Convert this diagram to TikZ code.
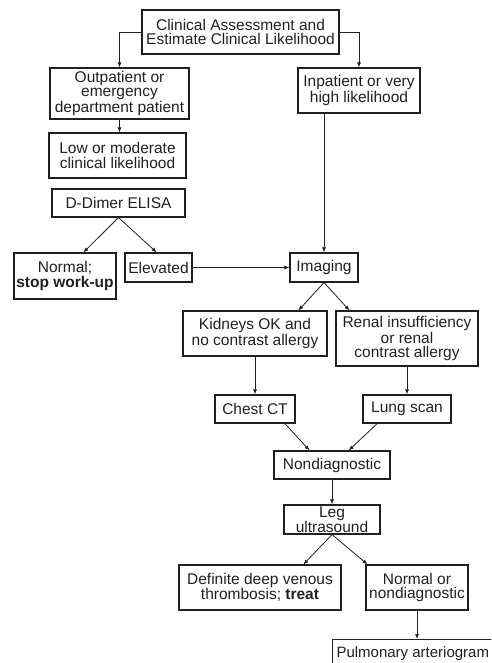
\documentclass[tikz,border=0pt]{standalone}
\usepackage{fontspec}
\setmainfont{Liberation Sans}
\usetikzlibrary{arrows.meta,positioning,calc}
\definecolor{ink}{HTML}{231F20}
\tikzset{
  flowarrow/.style={-{Latex[length=5pt,width=4pt]}, line width=0.8pt, draw=ink},
  stepbox/.style={draw=ink, line width=1.1pt, align=center, inner sep=2pt, text=ink,
    font=\fontsize{15.5}{14.4}\selectfont}
}

\begin{document}
\begin{tikzpicture}[x=1pt, y=-1pt]
        \useasboundingbox (0,0) rectangle (491,663);
        \clip (0,0) rectangle (491,663);

        \node[stepbox, minimum width=197pt, minimum height=44pt] (assess) at (240.5,32) {Clinical Assessment and\\Estimate Clinical Likelihood};
        \node[stepbox, minimum width=139pt, minimum height=51pt] (outp) at (119.5,93.5) {Outpatient or\\emergency\\department patient};
        \node[stepbox, minimum width=122pt, minimum height=45pt] (inp) at (359,90.5) {Inpatient or very\\high likelihood};
        \node[stepbox, minimum width=137pt, minimum height=45pt] (low) at (117.5,155.5) {Low or moderate\\clinical likelihood};
        \node[stepbox, minimum width=133pt, minimum height=28pt] (dimer) at (118.5,203) {D-Dimer ELISA};

        \node[stepbox, minimum width=102pt, minimum height=46pt] (normal) at (65,276) {Normal;\\\textbf{stop work-up}};
        \node[stepbox, minimum width=67pt, minimum height=29pt] (elev) at (158.5,267.5) {Elevated};
        \node[stepbox, minimum width=68pt, minimum height=29pt] (imaging) at (324,267.5) {Imaging};

        \node[stepbox, minimum width=144pt, minimum height=45pt] (kidney) at (255,333.5) {Kidneys OK and\\no contrast allergy};
        \node[stepbox, minimum width=142pt, minimum height=55pt] (renal) at (407,338.5) {Renal insufficiency\\or renal\\contrast allergy};
        \node[stepbox, minimum width=80pt, minimum height=28pt] (chest) at (255,409) {Chest CT};
        \node[stepbox, minimum width=88pt, minimum height=28pt] (lung) at (407,409) {Lung scan};

        \node[stepbox, minimum width=116pt, minimum height=28pt] (nondiag) at (332,465) {Nondiagnostic};
        \node[stepbox, minimum width=96pt, minimum height=29pt, inner sep=0pt] (leg) at (332,519.5) {Leg\\ultrasound};
        \node[stepbox, minimum width=162pt, minimum height=45pt] (dvt) at (260,587.5) {Definite deep venous\\thrombosis; \textbf{treat}};
        \node[stepbox, minimum width=102pt, minimum height=45pt] (normnd) at (417,587.5) {Normal or\\nondiagnostic};
        \node[stepbox, anchor=north west, minimum height=28pt, inner xsep=4pt, font=\fontsize{15}{14.4}\selectfont] (pulm) at (332,639) {Pulmonary arteriogram};

        \draw[flowarrow] (assess.west) -| (outp.north);
        \draw[flowarrow] (assess.east) -| (inp.north);
        \draw[flowarrow] (outp.south) -- (outp.south |- low.north);
        \draw[flowarrow] (dimer.south) -- (normal.52);
        \draw[flowarrow] (dimer.south) -- (elev.97);
        \draw[flowarrow] (imaging.north |- inp.south) -- (imaging.north);
        \draw[flowarrow] (elev.east) -- (elev.east -| imaging.west);
        \draw[flowarrow] (imaging.south) -- (kidney.28);
        \draw[flowarrow] (imaging.south) -- (renal.154);
        \draw[flowarrow] (kidney.south) -- (chest.north);
        \draw[flowarrow] (renal.south) -- (lung.north);
        \draw[flowarrow] (chest.-26) -- (nondiag.147);
        \draw[flowarrow] (lung.206) -- (nondiag.41);
        \draw[flowarrow] (nondiag.south) -- (leg.north);
        \draw[flowarrow] (leg.south) -- (dvt.28);
        \draw[flowarrow] (leg.south) -- (normnd.155);
        \draw[flowarrow] (normnd.south) -- (normnd.south |- pulm.north);
    \end{tikzpicture}
\end{document}
